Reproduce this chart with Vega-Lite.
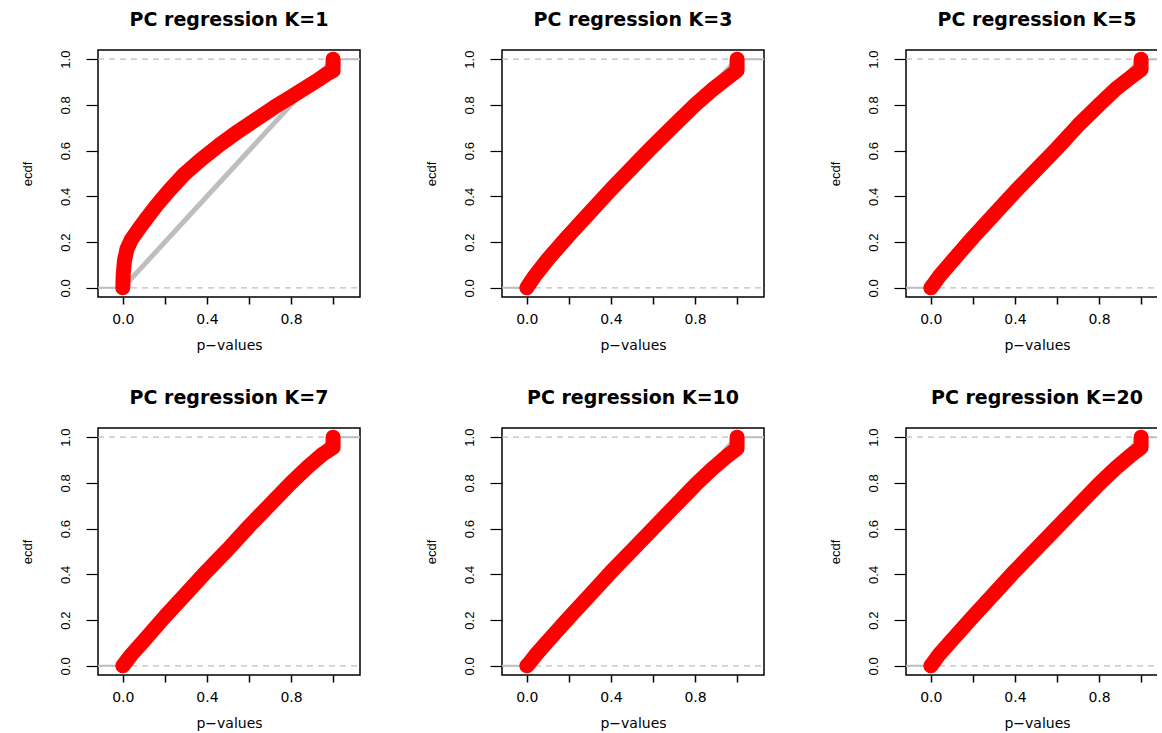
{
  "$schema": "https://vega.github.io/schema/vega-lite/v6.json",
  "usermeta": {"embedOptions": {"actions": false}},
  "background": "white",
  "padding": {"left": 20, "top": 10, "right": -13, "bottom": 0},
  "bounds": "flush",
  "columns": 3,
  "spacing": {"row": 131, "column": 142},
  "datasets": {
    "hl": [{"y": 0}, {"y": 1}],
    "ext": [{"x": -0.2, "x2": 0, "y": 0}, {"x": 1, "x2": 1.2, "y": 1}],
    "diag": [{"x": 0, "y": 0}, {"x": 1, "y": 1}],
    "curves": [
      {"K": 1, "x": 0, "y": 0}, {"K": 1, "x": 0.002, "y": 0.06}, {"K": 1, "x": 0.008, "y": 0.12}, {"K": 1, "x": 0.02, "y": 0.17}, {"K": 1, "x": 0.04, "y": 0.21}, {"K": 1, "x": 0.07, "y": 0.25}, {"K": 1, "x": 0.11, "y": 0.3}, {"K": 1, "x": 0.16, "y": 0.36}, {"K": 1, "x": 0.22, "y": 0.425}, {"K": 1, "x": 0.29, "y": 0.495}, {"K": 1, "x": 0.37, "y": 0.56}, {"K": 1, "x": 0.46, "y": 0.625}, {"K": 1, "x": 0.55, "y": 0.685}, {"K": 1, "x": 0.64, "y": 0.74}, {"K": 1, "x": 0.72, "y": 0.79}, {"K": 1, "x": 0.8, "y": 0.835}, {"K": 1, "x": 0.87, "y": 0.875}, {"K": 1, "x": 0.93, "y": 0.91}, {"K": 1, "x": 0.97, "y": 0.935}, {"K": 1, "x": 1, "y": 0.95}, {"K": 1, "x": 1, "y": 1},
      {"K": 3, "x": 0, "y": 0}, {"K": 3, "x": 0.01, "y": 0.015}, {"K": 3, "x": 0.04, "y": 0.055}, {"K": 3, "x": 0.1, "y": 0.125}, {"K": 3, "x": 0.2, "y": 0.23}, {"K": 3, "x": 0.3, "y": 0.33}, {"K": 3, "x": 0.4, "y": 0.43}, {"K": 3, "x": 0.5, "y": 0.525}, {"K": 3, "x": 0.6, "y": 0.62}, {"K": 3, "x": 0.7, "y": 0.71}, {"K": 3, "x": 0.8, "y": 0.8}, {"K": 3, "x": 0.88, "y": 0.865}, {"K": 3, "x": 0.95, "y": 0.915}, {"K": 3, "x": 1, "y": 0.95}, {"K": 3, "x": 1, "y": 1},
      {"K": 5, "x": 0, "y": 0}, {"K": 5, "x": 0.01, "y": 0.012}, {"K": 5, "x": 0.04, "y": 0.05}, {"K": 5, "x": 0.1, "y": 0.115}, {"K": 5, "x": 0.2, "y": 0.22}, {"K": 5, "x": 0.3, "y": 0.32}, {"K": 5, "x": 0.4, "y": 0.42}, {"K": 5, "x": 0.5, "y": 0.515}, {"K": 5, "x": 0.6, "y": 0.61}, {"K": 5, "x": 0.7, "y": 0.71}, {"K": 5, "x": 0.8, "y": 0.8}, {"K": 5, "x": 0.88, "y": 0.87}, {"K": 5, "x": 0.95, "y": 0.92}, {"K": 5, "x": 1, "y": 0.955}, {"K": 5, "x": 1, "y": 1},
      {"K": 7, "x": 0, "y": 0}, {"K": 7, "x": 0.01, "y": 0.012}, {"K": 7, "x": 0.04, "y": 0.048}, {"K": 7, "x": 0.1, "y": 0.11}, {"K": 7, "x": 0.2, "y": 0.215}, {"K": 7, "x": 0.3, "y": 0.315}, {"K": 7, "x": 0.4, "y": 0.415}, {"K": 7, "x": 0.5, "y": 0.51}, {"K": 7, "x": 0.6, "y": 0.61}, {"K": 7, "x": 0.7, "y": 0.705}, {"K": 7, "x": 0.8, "y": 0.8}, {"K": 7, "x": 0.88, "y": 0.87}, {"K": 7, "x": 0.95, "y": 0.925}, {"K": 7, "x": 1, "y": 0.955}, {"K": 7, "x": 1, "y": 1},
      {"K": 10, "x": 0, "y": 0}, {"K": 10, "x": 0.01, "y": 0.01}, {"K": 10, "x": 0.04, "y": 0.045}, {"K": 10, "x": 0.1, "y": 0.108}, {"K": 10, "x": 0.2, "y": 0.21}, {"K": 10, "x": 0.3, "y": 0.31}, {"K": 10, "x": 0.4, "y": 0.41}, {"K": 10, "x": 0.5, "y": 0.505}, {"K": 10, "x": 0.6, "y": 0.6}, {"K": 10, "x": 0.7, "y": 0.695}, {"K": 10, "x": 0.8, "y": 0.79}, {"K": 10, "x": 0.88, "y": 0.86}, {"K": 10, "x": 0.95, "y": 0.915}, {"K": 10, "x": 1, "y": 0.95}, {"K": 10, "x": 1, "y": 1},
      {"K": 20, "x": 0, "y": 0}, {"K": 20, "x": 0.01, "y": 0.012}, {"K": 20, "x": 0.04, "y": 0.05}, {"K": 20, "x": 0.1, "y": 0.112}, {"K": 20, "x": 0.2, "y": 0.215}, {"K": 20, "x": 0.3, "y": 0.315}, {"K": 20, "x": 0.4, "y": 0.415}, {"K": 20, "x": 0.5, "y": 0.51}, {"K": 20, "x": 0.6, "y": 0.605}, {"K": 20, "x": 0.7, "y": 0.7}, {"K": 20, "x": 0.8, "y": 0.795}, {"K": 20, "x": 0.88, "y": 0.865}, {"K": 20, "x": 0.95, "y": 0.92}, {"K": 20, "x": 1, "y": 0.955}, {"K": 20, "x": 1, "y": 1}
    ]
  },
  "concat": [
    {
      "title": "PC regression K=1", "width": 262, "height": 247,
      "encoding": {
        "x": {"field": "x", "type": "quantitative", "scale": {"domain": [-0.118, 1.128], "nice": false, "zero": false}, "axis": {"values": [0, 0.2, 0.4, 0.6, 0.8, 1], "labelExpr": "datum.value == 0 || datum.value == 0.4 || datum.value == 0.8 ? format(datum.value, '.1f') : ''", "title": "p−values"}},
        "y": {"field": "y", "type": "quantitative", "scale": {"domain": [-0.04, 1.04], "nice": false, "zero": false}, "axis": {"values": [0, 0.2, 0.4, 0.6, 0.8, 1], "format": ".1f", "title": "ecdf"}}
      },
      "layer": [
        {"data": {"name": "hl"}, "mark": {"type": "rule", "color": "#bebebe", "strokeDash": [6, 5], "strokeWidth": 1.2}, "encoding": {"x": {"value": 0}, "x2": {"value": "width"}}},
        {"data": {"name": "ext"}, "mark": {"type": "rule", "color": "#bebebe", "strokeWidth": 2, "clip": true}, "encoding": {"x2": {"field": "x2"}}},
        {"data": {"name": "diag"}, "mark": {"type": "line", "color": "#bebebe", "strokeWidth": 5}, "encoding": {}},
        {"data": {"name": "curves"}, "transform": [{"filter": "datum.K == 1"}], "mark": {"type": "line", "color": "#ff0000", "strokeWidth": 15, "strokeCap": "round", "strokeJoin": "round"}, "encoding": {"order": {"value": null}}}
      ]
    },
    {
      "title": "PC regression K=3", "width": 262, "height": 247,
      "encoding": {
        "x": {"field": "x", "type": "quantitative", "scale": {"domain": [-0.118, 1.128], "nice": false, "zero": false}, "axis": {"values": [0, 0.2, 0.4, 0.6, 0.8, 1], "labelExpr": "datum.value == 0 || datum.value == 0.4 || datum.value == 0.8 ? format(datum.value, '.1f') : ''", "title": "p−values"}},
        "y": {"field": "y", "type": "quantitative", "scale": {"domain": [-0.04, 1.04], "nice": false, "zero": false}, "axis": {"values": [0, 0.2, 0.4, 0.6, 0.8, 1], "format": ".1f", "title": "ecdf"}}
      },
      "layer": [
        {"data": {"name": "hl"}, "mark": {"type": "rule", "color": "#bebebe", "strokeDash": [6, 5], "strokeWidth": 1.2}, "encoding": {"x": {"value": 0}, "x2": {"value": "width"}}},
        {"data": {"name": "ext"}, "mark": {"type": "rule", "color": "#bebebe", "strokeWidth": 2, "clip": true}, "encoding": {"x2": {"field": "x2"}}},
        {"data": {"name": "diag"}, "mark": {"type": "line", "color": "#bebebe", "strokeWidth": 5}, "encoding": {}},
        {"data": {"name": "curves"}, "transform": [{"filter": "datum.K == 3"}], "mark": {"type": "line", "color": "#ff0000", "strokeWidth": 15, "strokeCap": "round", "strokeJoin": "round"}, "encoding": {"order": {"value": null}}}
      ]
    },
    {
      "title": "PC regression K=5", "width": 262, "height": 247,
      "encoding": {
        "x": {"field": "x", "type": "quantitative", "scale": {"domain": [-0.118, 1.128], "nice": false, "zero": false}, "axis": {"values": [0, 0.2, 0.4, 0.6, 0.8, 1], "labelExpr": "datum.value == 0 || datum.value == 0.4 || datum.value == 0.8 ? format(datum.value, '.1f') : ''", "title": "p−values"}},
        "y": {"field": "y", "type": "quantitative", "scale": {"domain": [-0.04, 1.04], "nice": false, "zero": false}, "axis": {"values": [0, 0.2, 0.4, 0.6, 0.8, 1], "format": ".1f", "title": "ecdf"}}
      },
      "layer": [
        {"data": {"name": "hl"}, "mark": {"type": "rule", "color": "#bebebe", "strokeDash": [6, 5], "strokeWidth": 1.2}, "encoding": {"x": {"value": 0}, "x2": {"value": "width"}}},
        {"data": {"name": "ext"}, "mark": {"type": "rule", "color": "#bebebe", "strokeWidth": 2, "clip": true}, "encoding": {"x2": {"field": "x2"}}},
        {"data": {"name": "diag"}, "mark": {"type": "line", "color": "#bebebe", "strokeWidth": 5}, "encoding": {}},
        {"data": {"name": "curves"}, "transform": [{"filter": "datum.K == 5"}], "mark": {"type": "line", "color": "#ff0000", "strokeWidth": 15, "strokeCap": "round", "strokeJoin": "round"}, "encoding": {"order": {"value": null}}}
      ]
    },
    {
      "title": "PC regression K=7", "width": 262, "height": 247,
      "encoding": {
        "x": {"field": "x", "type": "quantitative", "scale": {"domain": [-0.118, 1.128], "nice": false, "zero": false}, "axis": {"values": [0, 0.2, 0.4, 0.6, 0.8, 1], "labelExpr": "datum.value == 0 || datum.value == 0.4 || datum.value == 0.8 ? format(datum.value, '.1f') : ''", "title": "p−values"}},
        "y": {"field": "y", "type": "quantitative", "scale": {"domain": [-0.04, 1.04], "nice": false, "zero": false}, "axis": {"values": [0, 0.2, 0.4, 0.6, 0.8, 1], "format": ".1f", "title": "ecdf"}}
      },
      "layer": [
        {"data": {"name": "hl"}, "mark": {"type": "rule", "color": "#bebebe", "strokeDash": [6, 5], "strokeWidth": 1.2}, "encoding": {"x": {"value": 0}, "x2": {"value": "width"}}},
        {"data": {"name": "ext"}, "mark": {"type": "rule", "color": "#bebebe", "strokeWidth": 2, "clip": true}, "encoding": {"x2": {"field": "x2"}}},
        {"data": {"name": "diag"}, "mark": {"type": "line", "color": "#bebebe", "strokeWidth": 5}, "encoding": {}},
        {"data": {"name": "curves"}, "transform": [{"filter": "datum.K == 7"}], "mark": {"type": "line", "color": "#ff0000", "strokeWidth": 15, "strokeCap": "round", "strokeJoin": "round"}, "encoding": {"order": {"value": null}}}
      ]
    },
    {
      "title": "PC regression K=10", "width": 262, "height": 247,
      "encoding": {
        "x": {"field": "x", "type": "quantitative", "scale": {"domain": [-0.118, 1.128], "nice": false, "zero": false}, "axis": {"values": [0, 0.2, 0.4, 0.6, 0.8, 1], "labelExpr": "datum.value == 0 || datum.value == 0.4 || datum.value == 0.8 ? format(datum.value, '.1f') : ''", "title": "p−values"}},
        "y": {"field": "y", "type": "quantitative", "scale": {"domain": [-0.04, 1.04], "nice": false, "zero": false}, "axis": {"values": [0, 0.2, 0.4, 0.6, 0.8, 1], "format": ".1f", "title": "ecdf"}}
      },
      "layer": [
        {"data": {"name": "hl"}, "mark": {"type": "rule", "color": "#bebebe", "strokeDash": [6, 5], "strokeWidth": 1.2}, "encoding": {"x": {"value": 0}, "x2": {"value": "width"}}},
        {"data": {"name": "ext"}, "mark": {"type": "rule", "color": "#bebebe", "strokeWidth": 2, "clip": true}, "encoding": {"x2": {"field": "x2"}}},
        {"data": {"name": "diag"}, "mark": {"type": "line", "color": "#bebebe", "strokeWidth": 5}, "encoding": {}},
        {"data": {"name": "curves"}, "transform": [{"filter": "datum.K == 10"}], "mark": {"type": "line", "color": "#ff0000", "strokeWidth": 15, "strokeCap": "round", "strokeJoin": "round"}, "encoding": {"order": {"value": null}}}
      ]
    },
    {
      "title": "PC regression K=20", "width": 262, "height": 247,
      "encoding": {
        "x": {"field": "x", "type": "quantitative", "scale": {"domain": [-0.118, 1.128], "nice": false, "zero": false}, "axis": {"values": [0, 0.2, 0.4, 0.6, 0.8, 1], "labelExpr": "datum.value == 0 || datum.value == 0.4 || datum.value == 0.8 ? format(datum.value, '.1f') : ''", "title": "p−values"}},
        "y": {"field": "y", "type": "quantitative", "scale": {"domain": [-0.04, 1.04], "nice": false, "zero": false}, "axis": {"values": [0, 0.2, 0.4, 0.6, 0.8, 1], "format": ".1f", "title": "ecdf"}}
      },
      "layer": [
        {"data": {"name": "hl"}, "mark": {"type": "rule", "color": "#bebebe", "strokeDash": [6, 5], "strokeWidth": 1.2}, "encoding": {"x": {"value": 0}, "x2": {"value": "width"}}},
        {"data": {"name": "ext"}, "mark": {"type": "rule", "color": "#bebebe", "strokeWidth": 2, "clip": true}, "encoding": {"x2": {"field": "x2"}}},
        {"data": {"name": "diag"}, "mark": {"type": "line", "color": "#bebebe", "strokeWidth": 5}, "encoding": {}},
        {"data": {"name": "curves"}, "transform": [{"filter": "datum.K == 20"}], "mark": {"type": "line", "color": "#ff0000", "strokeWidth": 15, "strokeCap": "round", "strokeJoin": "round"}, "encoding": {"order": {"value": null}}}
      ]
    }
  ],
  "config": {
    "view": {"stroke": "#000000", "strokeWidth": 1.5},
    "title": {"font": "DejaVu Sans", "fontSize": 19, "fontWeight": "bold", "color": "#000000", "anchor": "middle", "frame": "group", "offset": 19, "baseline": "alphabetic"},
    "axis": {"grid": false, "domain": false, "ticks": true, "tickColor": "#000000", "labelColor": "#000000", "titleColor": "#000000", "titleFontWeight": "normal", "labelOverlap": false, "labelFlush": false, "labelBound": false},
    "axisX": {"tickSize": 7, "tickWidth": 1.5, "labelFont": "DejaVu Sans", "labelFontSize": 14, "labelPadding": 8, "titleFont": "DejaVu Sans", "titleFontSize": 14, "titlePadding": 12},
    "axisY": {"tickSize": 12, "tickWidth": 1.2, "labelFont": "Liberation Sans", "labelFontSize": 13, "labelAngle": 270, "labelAlign": "center", "labelBaseline": "bottom", "labelPadding": 14, "titleFont": "Liberation Sans", "titleFontSize": 13, "titlePadding": 25}
  }
}
